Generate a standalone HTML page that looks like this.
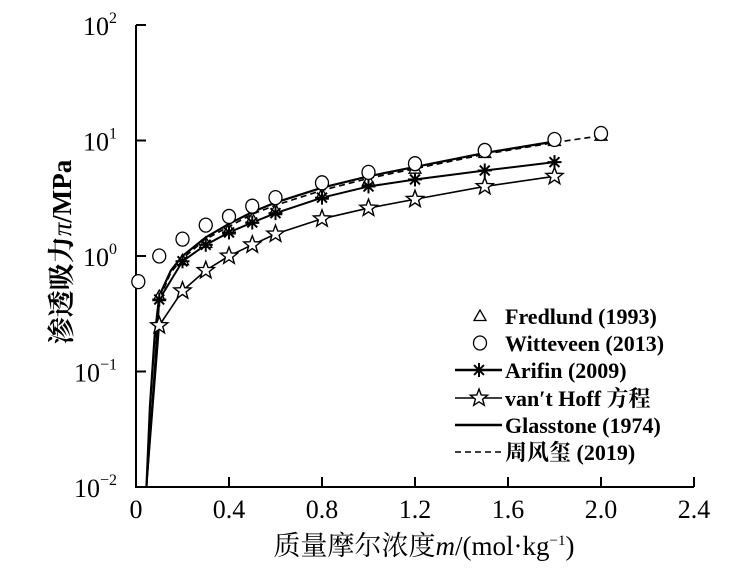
<!DOCTYPE html>
<html><head><meta charset="utf-8"><style>
body{margin:0;background:#fff;width:735px;height:579px;overflow:hidden}
svg text{font-family:"Liberation Serif","Noto Serif CJK SC",serif;fill:#000}
</style></head><body>
<svg id="s" width="735" height="579" xmlns="http://www.w3.org/2000/svg">
<g id="g"></g>
</svg>
<script>
const X0=136,XS=232.5,Y0=256,YS=115.5;
const px=m=>X0+m*XS, py=v=>Y0-Math.log10(v)*YS;
let h='';
h+=`<path d="M${X0} 25 V487 H694" fill="none" stroke="#000" stroke-width="2"/>`;
[2,1,0,-1].forEach(e=>{const y=Y0-e*YS;h+=`<line x1="${X0}" x2="${X0+10}" y1="${y}" y2="${y}" stroke="#000" stroke-width="2"/>`;});
for(let i=1;i<=6;i++){const x=X0+i*0.4*XS;h+=`<line x1="${x}" x2="${x}" y1="487" y2="477" stroke="#000" stroke-width="2"/>`;}
[2,1,0,-1,-2].forEach(e=>{const y=Y0-e*YS;h+=`<text x="117" y="${y+10}" font-size="26" text-anchor="end">10<tspan dy="-12" font-size="16">${e<0?'−'+(-e):e}</tspan></text>`;});
['0','0.4','0.8','1.2','1.6','2.0','2.4'].forEach((t,i)=>{h+=`<text x="${X0+i*0.4*XS}" y="518" font-size="26" text-anchor="middle">${t}</text>`;});
h+=`<text x="424" y="555" font-size="27" text-anchor="middle">质量摩尔浓度<tspan font-style="italic">m</tspan>/(mol·kg<tspan dy="-10" font-size="15">−1</tspan><tspan dy="10">)</tspan></text>`;
h+=`<text transform="translate(71 252) rotate(-90)" font-size="27" text-anchor="middle" font-weight="bold">渗透吸力<tspan font-style="italic" font-weight="normal">π</tspan>/MPa</text>`;
function line(pts,dash,w){h+=`<polyline points="${pts.map(p=>px(p[0])+','+py(p[1])).join(' ')}" fill="none" stroke="#000" stroke-width="${w||2}" ${dash?'stroke-dasharray="6,4"':''}/>`;}
const ms=[0.1,0.2,0.3,0.4,0.5,0.6,0.8,1.0,1.2,1.5,1.8];
const gl=[[0.045,0.01],[0.06,0.05],[0.08,0.2],[0.1,0.45],[0.15,0.75],[0.2,1.0],[0.3,1.45],[0.4,1.9],[0.5,2.4],[0.6,2.9],[0.8,3.9],[1.0,4.9],[1.2,5.9],[1.5,7.8],[1.8,9.8]];
line(gl,false,2.2);
line([[0.045,0.01],[0.06,0.05],[0.08,0.18],[0.1,0.42],[0.15,0.72],[0.2,0.95],[0.3,1.4],[0.4,1.8],[0.5,2.3],[0.6,2.75],[0.8,3.7],[1.0,4.7],[1.2,5.7],[1.5,7.6],[1.8,9.6],[2.0,11]],true,1.6);
const ar=[0.42,0.9,1.25,1.6,1.95,2.35,3.2,4.0,4.6,5.5,6.5];
line([[0.045,0.01],[0.08,0.1],[0.1,0.42]].concat(ms.slice(1).map((m,i)=>[m,ar[i+1]])),false,2);
const vh=[0.25,0.5,0.75,1.0,1.25,1.55,2.1,2.6,3.1,4.0,4.9];
line([[0.045,0.01],[0.1,0.25]].concat(ms.slice(1).map((m,i)=>[m,vh[i+1]])),false,1.6);
function star(x,y,r){let p=[];for(let i=0;i<10;i++){const a=-Math.PI/2+i*Math.PI/5,rr=i%2?r*0.42:r;p.push((x+rr*Math.cos(a)).toFixed(1)+','+(y+rr*Math.sin(a)).toFixed(1));}h+=`<polygon points="${p.join(' ')}" fill="#fff" stroke="#000" stroke-width="1.4"/>`;}
function ast(x,y,r){for(let i=0;i<4;i++){const a=i*Math.PI/4;h+=`<line x1="${x-r*Math.cos(a)}" y1="${y-r*Math.sin(a)}" x2="${x+r*Math.cos(a)}" y2="${y+r*Math.sin(a)}" stroke="#000" stroke-width="2"/>`;}}
function tri(x,y,r){h+=`<polygon points="${x},${y-r} ${x-r},${y+r*0.75} ${x+r},${y+r*0.75}" fill="#fff" stroke="#000" stroke-width="1.3"/>`;}
function circ(x,y){h+=`<ellipse cx="${x}" cy="${y}" rx="6.5" ry="7" fill="#fff" stroke="#000" stroke-width="1.3"/>`;}
const fr=[0.45,0.92,1.3,1.7,2.1,2.5,3.4,4.5,5.7,7.8,9.9];
ms.forEach((m,i)=>tri(px(m),py(fr[i]),6)); tri(px(2.0),py(11),6);
const wv=[1.0,1.4,1.85,2.2,2.7,3.2,4.3,5.3,6.3,8.2,10.2];
circ(px(0.01),py(0.6)); ms.forEach((m,i)=>circ(px(m),py(wv[i]))); circ(px(2.0),py(11.5));
ms.forEach((m,i)=>ast(px(m),py(ar[i]),7));
ms.forEach((m,i)=>star(px(m),py(vh[i]),9));
const L=[['Fredlund (1993)',316],['Witteveen (2013)',343],["Arifin (2009)",370],["van′t Hoff 方程",398],['Glasstone (1974)',425],['周风玺 (2019)',452]];
L.forEach(([t,y])=>h+=`<text x="505" y="${y+8}" font-size="22" font-weight="bold">${t}</text>`);
tri(480,316,6); circ(480,343);
h+=`<line x1="455" x2="502" y1="370" y2="370" stroke="#000" stroke-width="2.5"/>`; ast(479,370,7);
h+=`<line x1="455" x2="502" y1="398" y2="398" stroke="#000" stroke-width="1.6"/>`; star(479,398,9);
h+=`<line x1="455" x2="502" y1="425" y2="425" stroke="#000" stroke-width="2.5"/>`;
h+=`<line x1="455" x2="502" y1="452" y2="452" stroke="#000" stroke-width="1.6" stroke-dasharray="6,4"/>`;
document.getElementById('g').innerHTML=h;
</script>
</body></html>
